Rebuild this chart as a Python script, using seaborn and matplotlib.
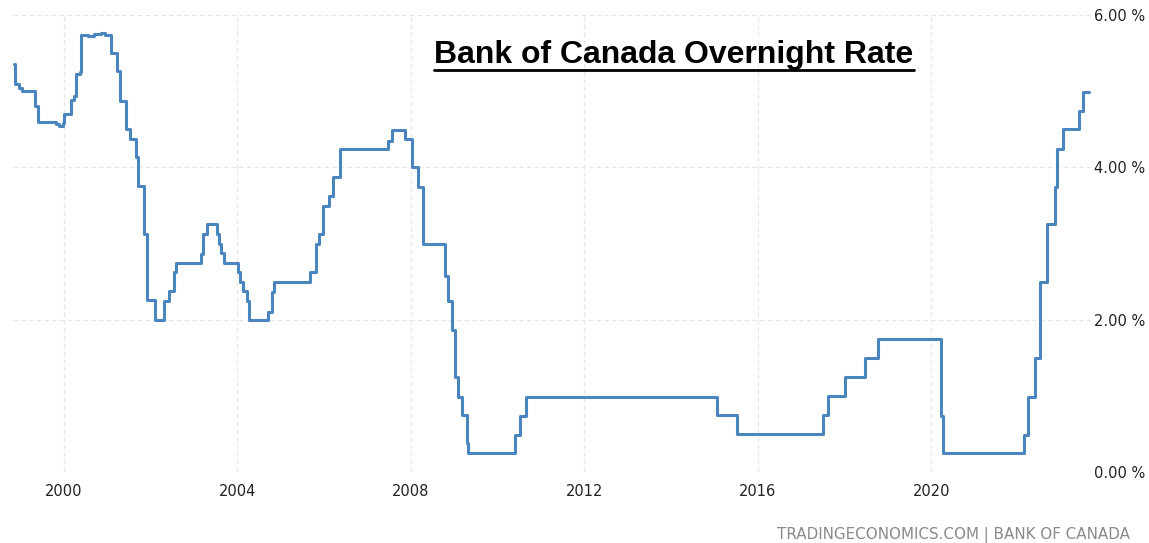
import pandas as pd
import seaborn as sns
import matplotlib.pyplot as plt
from matplotlib.lines import Line2D

# rate changes (date the level starts, level in %)
change_dates = [
    '1998-11-06', '1998-11-21', '1998-12-17', '1999-01-12', '1999-05-01', '1999-05-27',
    '1999-08-18', '1999-10-27', '1999-11-20', '1999-12-24', '2000-01-01', '2000-02-28',
    '2000-03-25', '2000-04-12', '2000-05-15', '2000-05-29', '2000-07-20', '2000-09-12',
    '2000-11-06', '2000-12-12', '2001-01-30', '2001-03-29', '2001-04-16', '2001-06-06',
    '2001-07-13', '2001-08-29', '2001-09-20', '2001-11-06', '2001-12-05', '2002-02-06',
    '2002-04-23', '2002-06-06', '2002-07-16', '2002-08-07', '2003-02-28', '2003-03-15',
    '2003-04-20', '2003-07-13', '2003-07-31', '2003-08-15', '2003-09-09', '2004-01-08',
    '2004-01-23', '2004-02-21', '2004-03-22', '2004-04-09', '2004-09-20', '2004-10-19',
    '2004-11-03', '2005-09-02', '2005-10-23', '2005-11-18', '2005-12-20', '2006-02-10',
    '2006-03-14', '2006-05-19', '2007-06-28', '2007-07-31', '2007-11-18', '2008-01-15',
    '2008-02-28', '2008-04-16', '2008-10-20', '2008-11-07', '2008-12-17', '2009-01-12',
    '2009-02-06', '2009-03-11', '2009-04-23', '2009-05-01', '2010-05-30', '2010-07-13',
    '2010-09-02', '2015-01-20', '2015-07-13', '2017-07-05', '2017-08-18', '2018-01-08',
    '2018-06-25', '2018-10-12', '2020-03-25', '2020-04-08', '2022-02-20', '2022-03-28',
    '2022-05-26', '2022-07-05', '2022-09-02', '2022-11-10', '2022-11-25', '2023-01-15',
    '2023-05-30', '2023-07-01', '2023-08-22',
]
rates = [
    5.36, 5.09, 5.04, 5.00, 4.80, 4.59,
    4.60, 4.57, 4.54, 4.58, 4.70, 4.89,
    4.93, 5.22, 5.25, 5.74, 5.72, 5.75,
    5.76, 5.74, 5.50, 5.26, 4.87, 4.50,
    4.37, 4.13, 3.75, 3.12, 2.26, 2.00,
    2.24, 2.37, 2.62, 2.74, 2.86, 3.12,
    3.25, 3.12, 2.99, 2.88, 2.74, 2.62,
    2.50, 2.37, 2.24, 2.00, 2.10, 2.36,
    2.49, 2.62, 2.99, 3.12, 3.49, 3.62,
    3.87, 4.24, 4.34, 4.49, 4.37, 4.00,
    3.74, 3.00, 2.57, 2.24, 1.87, 1.25,
    0.99, 0.75, 0.38, 0.25, 0.49, 0.73,
    0.99, 0.75, 0.50, 0.75, 1.00, 1.25,
    1.50, 1.75, 0.73, 0.25, 0.49, 0.99,
    1.50, 2.49, 3.25, 3.74, 4.24, 4.50,
    4.74, 4.99, 4.99,
]
year_ticks = [2000, 2004, 2008, 2012, 2016, 2020]
rate_ticks = [0, 2, 4, 6]

title = 'Bank of Canada Overnight Rate'
source = 'TRADINGECONOMICS.COM | BANK OF CANADA'

df = pd.DataFrame({'date': pd.to_datetime(change_dates), 'rate': rates})

sns.set_style('white')
plt.rcParams['font.family'] = ['DejaVu Sans']

fig = plt.figure(figsize=(11.49, 5.43), dpi=100)
ax = fig.add_axes([13 / 1149, 71 / 543, 1078 / 1149, 457 / 543])

sns.lineplot(data=df, x='date', y='rate', ax=ax, color='#4a86bd', linewidth=2.2,
             drawstyle='steps-post', estimator=None)

ax.set_xlim(pd.Timestamp('1998-10-31'), pd.Timestamp('2023-09-08'))
ax.set_ylim(0, 6)
ax.set_xticks([pd.Timestamp(f'{y}-01-01') for y in year_ticks])
ax.set_xticklabels([str(y) for y in year_ticks])
ax.set_yticks(rate_ticks)
ax.set_yticklabels([f'{v:.2f} %' for v in rate_ticks])
ax.yaxis.tick_right()
ax.tick_params(axis='both', length=0, labelsize=10.5, colors='#222222')
ax.tick_params(axis='x', pad=9)
ax.tick_params(axis='y', pad=2)
ax.set_xlabel('')
ax.set_ylabel('')
ax.grid(True, color='#e6e6e6', linestyle=(0, (4, 3)), linewidth=0.8)
for s in ax.spines.values():
    s.set_visible(False)

t = fig.text(674 / 1149, 1 - 63 / 543, title, ha='center', va='baseline',
             fontsize=23, fontweight='bold', family='Liberation Sans', color='black')
fig.text(1130 / 1149, 1 - 535 / 543, source, ha='right', va='center',
         fontsize=10.9, color='#8a8a8a')

# underline the title
fig.canvas.draw()
bb = t.get_window_extent()
uy = (543 - 70) / 543
fig.add_artist(Line2D([bb.x0 / 1149, bb.x1 / 1149], [uy, uy], transform=fig.transFigure,
                      color='black', linewidth=2))

fig.savefig('out.png', dpi=100)
